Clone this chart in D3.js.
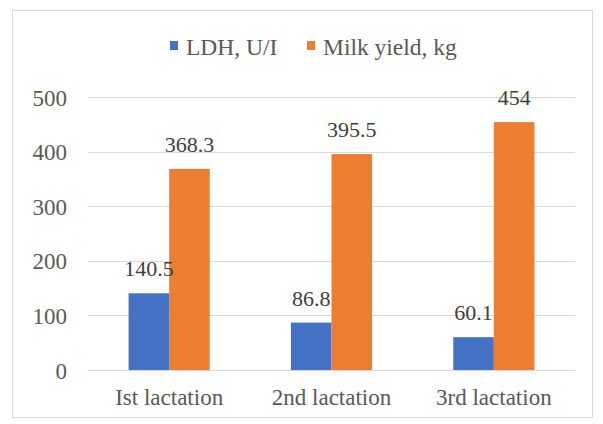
<!DOCTYPE html>
<html><head><meta charset="utf-8">
<script src="https://cdn.jsdelivr.net/npm/d3@7"></script>
<style>body{margin:0;background:#fff}svg{display:block}svg text{font-family:"Liberation Serif","Times New Roman",serif !important}</style>
</head><body>
<svg id="c" width="603" height="424"></svg>
<script>
const categories = ["Ist lactation", "2nd lactation", "3rd lactation"];
const seriesNames = ["LDH, U/I", "Milk yield, kg"];
const ldh = [140.5, 86.8, 60.1];
const milk = [368.3, 395.5, 454];
const labelsLdh = ["140.5", "86.8", "60.1"];
const labelsMilk = ["368.3", "395.5", "454"];
const yTicks = [0, 100, 200, 300, 400, 500];
const colors = ["#4472C4", "#ED7D31"];

const svg = d3.select("#c");
const textColor = "#595959";
const serif = '"Liberation Serif", "Times New Roman", serif';

svg.append("rect").attr("x", 12.5).attr("y", 10.5).attr("width", 580).attr("height", 407)
  .attr("fill", "#fff").attr("stroke", "#d9d9d9").attr("stroke-width", 1);

const plot = {left: 88, right: 575, top: 97, bottom: 370};
const x = d3.scaleBand().domain(categories).range([plot.left, plot.right]).paddingInner(0.5).paddingOuter(0.25);
const xs = d3.scaleBand().domain([0, 1]).range([0, x.bandwidth()]);
const y = d3.scaleLinear().domain([0, 500]).range([plot.bottom, plot.top]);

svg.append("g").selectAll("line").data(yTicks).join("line")
  .attr("x1", plot.left).attr("x2", plot.right)
  .attr("y1", d => Math.round(y(d)) + 0.5).attr("y2", d => Math.round(y(d)) + 0.5)
  .attr("stroke", "#d9d9d9").attr("stroke-width", 1);

const yAxis = d3.axisLeft(y).tickValues(yTicks).tickSize(0).tickPadding(0);
const ya = svg.append("g").attr("transform", `translate(67,0)`).call(yAxis);
ya.attr("font-family", serif);
ya.select(".domain").remove();
ya.selectAll("text").attr("font-size", 23).attr("fill", textColor)
  .style("font-family", serif).attr("dy", "0.35em");

const xAxis = d3.axisBottom(x).tickSize(0).tickPadding(0);
const xa = svg.append("g").attr("transform", `translate(0,405)`).call(xAxis);
xa.attr("font-family", serif);
xa.select(".domain").remove();
xa.selectAll("text").attr("font-size", 23).attr("fill", textColor)
  .style("font-family", serif).attr("dy", 0);

const data = categories.map((c, i) => ({c, vals: [ldh[i], milk[i]], labs: [labelsLdh[i], labelsMilk[i]]}));

const groups = svg.append("g").selectAll("g").data(data).join("g")
  .attr("transform", d => `translate(${x(d.c)},0)`);
groups.selectAll("rect").data(d => d.vals.map((v, k) => ({v, k}))).join("rect")
  .attr("x", d => xs(d.k)).attr("width", xs.bandwidth())
  .attr("y", d => y(d.v)).attr("height", d => y(0) - y(d.v))
  .attr("fill", d => colors[d.k]);
groups.selectAll("text").data(d => d.vals.map((v, k) => ({v, k, lab: d.labs[k]}))).join("text")
  .attr("x", d => xs(d.k) + xs.bandwidth() / 2).attr("y", d => y(d.v) - 17)
  .attr("text-anchor", "middle").attr("font-size", 22).attr("fill", "#404040")
  .style("font-family", serif)
  .text(d => d.lab);

const legendItems = [{name: seriesNames[0], x: 170}, {name: seriesNames[1], x: 307}];
const lg = svg.append("g").selectAll("g").data(legendItems).join("g")
  .attr("transform", d => `translate(${d.x},0)`);
lg.append("rect").attr("x", 0).attr("y", 41).attr("width", 8).attr("height", 9)
  .attr("fill", (d, i) => colors[i]);
lg.append("text").attr("x", 16).attr("y", 55).attr("font-size", 23.5).attr("fill", textColor)
  .style("font-family", serif)
  .text(d => d.name);
</script>
</body></html>
